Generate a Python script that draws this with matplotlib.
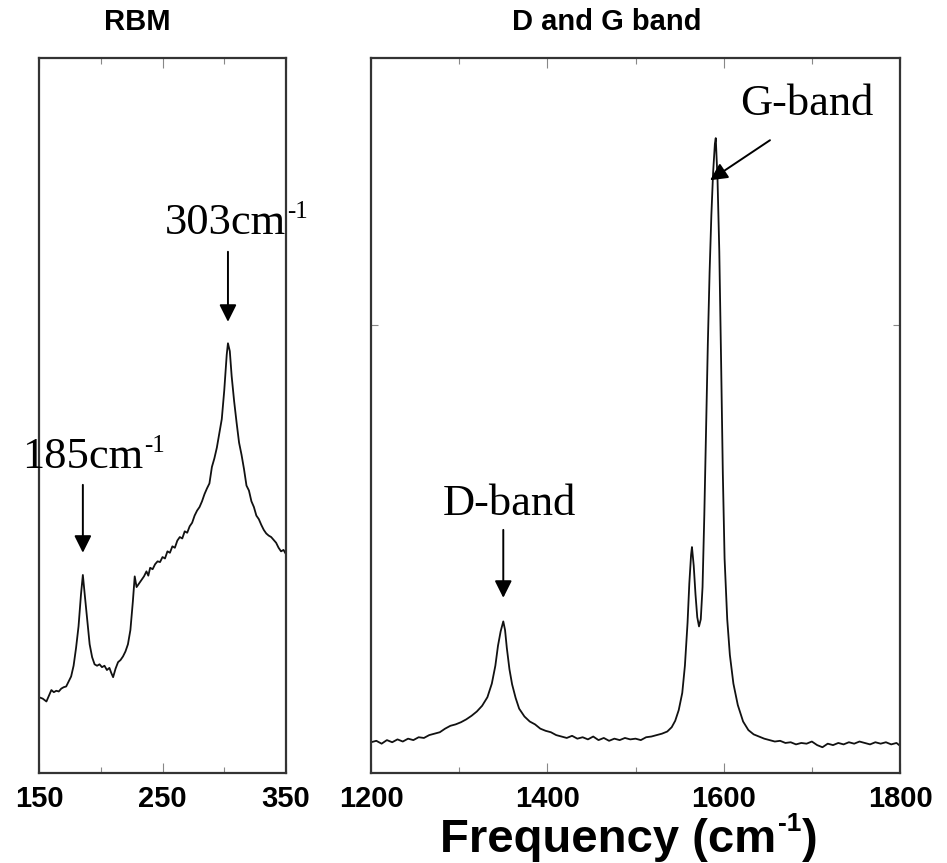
import matplotlib
matplotlib.use("Agg")
import matplotlib.pyplot as plt
from matplotlib.ticker import MultipleLocator, FixedLocator

# ---- data (intensity in arbitrary units, 0..1 = axis height) ----
rbm_x = [150, 153, 156, 158, 160, 162, 164, 166, 168, 170, 172, 174, 176, 178, 180,
         182, 184, 185.5, 187, 189, 191, 193, 195, 197, 199, 201, 203, 205, 207, 208.5,
         210, 212, 214, 216, 218, 220, 222, 224, 226, 227.5, 229, 231, 233, 235, 237,
         238.5, 240, 242, 244, 246, 248, 250, 252, 254, 256, 258, 260, 262, 264, 266,
         268, 270, 272, 274, 276, 278, 280, 282, 284, 286, 288, 290, 292, 294, 296,
         298, 300, 302, 303, 304.5, 306, 308, 310, 312, 314, 316, 318, 320, 322, 324,
         326, 328, 330, 332, 334, 336, 338, 340, 342, 344, 346, 348, 350]
rbm_y = [0.106, 0.104, 0.100, 0.108, 0.116, 0.113, 0.115, 0.114, 0.118, 0.120, 0.121,
         0.128, 0.135, 0.150, 0.175, 0.205, 0.250, 0.277, 0.250, 0.215, 0.180, 0.162,
         0.152, 0.150, 0.152, 0.148, 0.150, 0.144, 0.147, 0.140, 0.134, 0.146, 0.155,
         0.158, 0.163, 0.170, 0.180, 0.200, 0.240, 0.275, 0.260, 0.265, 0.270, 0.275,
         0.282, 0.276, 0.287, 0.285, 0.292, 0.296, 0.295, 0.302, 0.300, 0.310, 0.308,
         0.317, 0.315, 0.325, 0.330, 0.328, 0.338, 0.336, 0.345, 0.350, 0.360, 0.367,
         0.372, 0.380, 0.390, 0.398, 0.405, 0.428, 0.440, 0.455, 0.475, 0.495, 0.535,
         0.585, 0.601, 0.590, 0.555, 0.520, 0.490, 0.462, 0.445, 0.425, 0.402, 0.395,
         0.380, 0.372, 0.360, 0.355, 0.347, 0.340, 0.335, 0.332, 0.330, 0.326, 0.322,
         0.315, 0.310, 0.312, 0.306]

dg_x = [1200, 1206, 1212, 1218, 1224, 1230, 1236, 1242, 1248, 1254, 1260, 1266, 1272,
        1278, 1284, 1290, 1296, 1302, 1308, 1314, 1320, 1326, 1332, 1337, 1341, 1344,
        1347, 1350, 1352, 1354, 1357, 1360, 1364, 1368, 1374, 1380, 1386, 1392, 1398,
        1404, 1410, 1416, 1422, 1428, 1434, 1440, 1446, 1452, 1458, 1464, 1470, 1476,
        1482, 1488, 1494, 1500, 1506, 1512, 1518, 1524, 1530, 1536, 1541, 1545, 1549,
        1553, 1556, 1559, 1561, 1563, 1564, 1566, 1568, 1570, 1572, 1574, 1576, 1578,
        1580, 1582, 1584, 1586, 1588, 1590, 1591, 1593, 1595, 1597, 1599, 1601, 1604,
        1607, 1611, 1616, 1622, 1628, 1634, 1640, 1646, 1652, 1658, 1664, 1670, 1676,
        1682, 1688, 1694, 1700, 1706, 1712, 1718, 1724, 1730, 1736, 1742, 1748, 1754,
        1760, 1766, 1772, 1778, 1784, 1790, 1796, 1800]
dg_y = [0.043, 0.045, 0.041, 0.046, 0.043, 0.047, 0.044, 0.048, 0.046, 0.050, 0.049,
        0.053, 0.055, 0.057, 0.062, 0.066, 0.068, 0.071, 0.075, 0.080, 0.086, 0.094,
        0.106, 0.125, 0.150, 0.178, 0.198, 0.212, 0.200, 0.175, 0.145, 0.124, 0.105,
        0.090, 0.079, 0.072, 0.068, 0.062, 0.059, 0.057, 0.053, 0.051, 0.049, 0.052,
        0.048, 0.050, 0.047, 0.051, 0.046, 0.049, 0.045, 0.048, 0.046, 0.049, 0.047,
        0.048, 0.046, 0.050, 0.051, 0.053, 0.055, 0.058, 0.064, 0.073, 0.088, 0.112,
        0.150, 0.210, 0.265, 0.305, 0.316, 0.290, 0.250, 0.218, 0.205, 0.215, 0.260,
        0.360, 0.480, 0.600, 0.700, 0.780, 0.840, 0.880, 0.888, 0.830, 0.730, 0.580,
        0.420, 0.300, 0.215, 0.165, 0.125, 0.095, 0.072, 0.060, 0.054, 0.051, 0.048,
        0.046, 0.044, 0.045, 0.042, 0.043, 0.040, 0.042, 0.041, 0.044, 0.039, 0.036,
        0.041, 0.039, 0.042, 0.040, 0.043, 0.041, 0.044, 0.042, 0.040, 0.043, 0.041,
        0.043, 0.040, 0.042, 0.038]

rbm_ticks = [150, 250, 350]
dg_ticks = [1200, 1400, 1600, 1800]

# peak labels: (text, superscript, arrow tip, arrow tail, text left/baseline)
rbm_notes = [("303cm", "-1", (303, 0.631), (303, 0.729), (252.0, 0.754)),
             ("185cm", "-1", (185.5, 0.308), (185.5, 0.403), (136.2, 0.427))]
dg_notes = [("D-band", "", (1350, 0.245), (1350, 0.340), (1281.7, 0.361)),
            ("G-band", "", (1584.5, 0.829), (1652.5, 0.885), (1618.5, 0.920))]

# ---------------- figure ----------------
plt.rcParams.update({"font.family": "Liberation Sans", "font.weight": "bold"})
fig = plt.figure(figsize=(9.47, 8.63), dpi=100)
ax1 = fig.add_axes([0.0412, 0.1043, 0.2608, 0.8285])
ax2 = fig.add_axes([0.3918, 0.1043, 0.5586, 0.8285])

ax1.plot(rbm_x, rbm_y, color="#111111", lw=1.3)
ax2.plot(dg_x, dg_y, color="#111111", lw=1.3)
ax1.set_xlim(150, 350)
ax2.set_xlim(1200, 1800)

for ax, ticks, minor in [(ax1, rbm_ticks, 50), (ax2, dg_ticks, 100)]:
    ax.set_ylim(0, 1)
    ax.xaxis.set_major_locator(FixedLocator(ticks))
    ax.xaxis.set_minor_locator(MultipleLocator(minor))
    ax.tick_params(axis="x", which="major", direction="in", top=True, length=7,
                   width=0.8, color="#888888", pad=9, labelsize=21)
    ax.tick_params(axis="x", which="minor", direction="in", top=True, length=4,
                   width=0.8, color="#888888")
    for sp in ax.spines.values():
        sp.set_linewidth(1.6)
        sp.set_color("#333333")

ax1.set_yticks([])
ax2.yaxis.set_major_locator(FixedLocator([0.627]))
ax2.tick_params(axis="y", direction="in", left=True, right=True, length=5,
                width=0.8, color="#888888", labelleft=False)

arrow = dict(arrowstyle="-|>", color="black", lw=1.4, mutation_scale=26,
             shrinkA=0, shrinkB=0)
serif = dict(family="Liberation Serif", weight="normal")
for ax, notes in [(ax1, rbm_notes), (ax2, dg_notes)]:
    for txt, sup, tip, tail, pos in notes:
        ax.annotate("", xy=tip, xytext=tail, arrowprops=arrow, annotation_clip=False)
        t = ax.text(pos[0], pos[1], txt, ha="left", va="baseline", fontsize=32,
                    clip_on=False, **serif)
        if sup:
            ax.annotate(sup, xy=(1, 1), xycoords=t, xytext=(0.5, 1.5),
                        textcoords="offset points", ha="left", va="top",
                        fontsize=18, annotation_clip=False, **serif)

fig.text(137 / 947, 1 - 22 / 863, "RBM", ha="center", va="center", fontsize=21,
         weight="bold")
fig.text(607 / 947, 1 - 22 / 863, "D and G band", ha="center", va="center",
         fontsize=21, weight="bold")

# axis label built from pieces so the superscript keeps a short hyphen
lab = fig.text(440 / 947, 1 - 852 / 863, "Frequency (cm", ha="left",
               va="baseline", fontsize=34, weight="bold")
sup = ax2.annotate("-1", xy=(1, 1), xycoords=lab, xytext=(1, 4),
                   textcoords="offset points", ha="left", va="top", fontsize=19,
                   weight="bold", annotation_clip=False)
ax2.annotate(")", xy=(1, 0), xycoords=(sup, lab), xytext=(0.5, 0),
             textcoords="offset points", ha="left", va="bottom", fontsize=34,
             weight="bold", annotation_clip=False)

fig.savefig("out.png", dpi=100)
